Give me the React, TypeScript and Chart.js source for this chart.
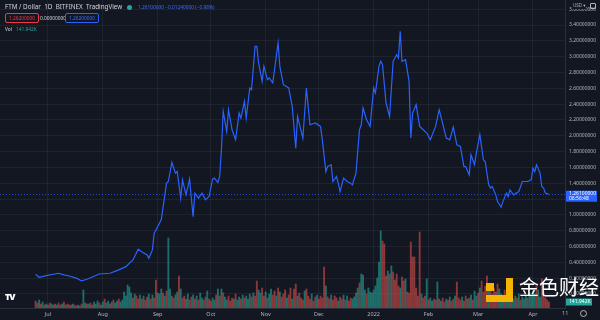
import React, { useEffect, useRef } from "react";
import { Chart, registerables } from "chart.js";

Chart.register(...registerables);

// FTM / Dollar, 1D, BITFINEX — day offsets counted from 2021-06-24
const START_DATE = "2021-06-24";
const monthTickDays = [7, 38, 69, 99, 130, 160, 191, 222, 250, 281];
const monthTickLabels = ["Jul", "Aug", "Sep", "Oct", "Nov", "Dec", "2022", "Feb", "Mar", "Apr"];
const priceTicks = [0, 0.2, 0.4, 0.6, 0.8, 1.0, 1.2, 1.4, 1.6, 1.8, 2.0, 2.2, 2.4, 2.6, 2.8, 3.0, 3.2, 3.4, 3.6];

const priceDay = [
  0, 2, 6, 13, 16, 19, 23, 26, 29, 32,
  36, 42, 46, 51, 55, 58, 60, 63, 64, 66,
  67, 68, 70, 71, 74, 75, 77, 79, 80, 82,
  83, 85, 87, 88, 89, 90, 92, 94, 96, 98,
  100, 101, 103, 104, 105, 106, 108, 109, 111, 113,
  115, 116, 118, 119, 121, 122, 124, 125, 126, 128,
  129, 131, 132, 134, 135, 137, 138, 140, 143, 145,
  147, 148, 151, 153, 155, 158, 161, 162, 164, 165,
  167, 168, 170, 171, 172, 174, 176, 178, 179, 181,
  183, 184, 185, 187, 189, 191, 192, 194, 195, 196,
  198, 199, 200, 202, 204, 205, 206, 207, 209, 211,
  212, 213, 215, 217, 219, 221, 223, 226, 228, 229,
  232, 234, 236, 238, 240, 242, 243, 245, 246, 248,
  249, 251, 253, 254, 256, 257, 258, 260, 261, 263,
  264, 266, 267, 268, 270, 273, 275, 278, 280, 281,
  282, 283, 285, 286, 287, 288, 290,
];
const priceUsd = [
  0.249, 0.211, 0.232, 0.262, 0.241, 0.228, 0.2, 0.165, 0.186, 0.215,
  0.253, 0.262, 0.295, 0.346, 0.43, 0.566, 0.535, 0.494, 0.452, 0.557,
  0.768, 0.81, 0.895, 0.937, 1.401, 1.422, 1.662, 1.528, 1.548, 1.211,
  1.443, 1.253, 1.452, 1.211, 0.978, 1.275, 1.211, 1.275, 1.19, 1.232,
  1.452, 1.465, 1.409, 1.485, 1.823, 2.308, 2.054, 2.329, 2.076, 1.949,
  2.287, 2.224, 2.434, 2.224, 2.604, 2.582, 3.13, 3.13, 2.92, 2.687,
  2.877, 2.709, 2.73, 2.667, 2.835, 3.173, 2.877, 2.646, 2.604, 2.371,
  1.844, 2.244, 1.971, 2.604, 2.139, 2.161, 2.118, 1.949, 1.548, 1.611,
  1.633, 1.422, 1.485, 1.401, 1.295, 1.465, 1.422, 1.401, 1.38, 1.528,
  2.076, 2.139, 2.351, 2.203, 2.118, 2.604, 2.541, 2.877, 2.941, 2.899,
  2.414, 2.329, 2.244, 2.941, 3.025, 2.984, 3.32, 2.941, 2.962, 2.687,
  1.971, 2.287, 2.392, 2.118, 2.076, 2.034, 1.949, 2.118, 2.329, 2.244,
  1.971, 1.949, 2.11, 1.886, 1.865, 1.611, 1.611, 1.506, 1.759, 1.633,
  1.781, 2.013, 1.696, 1.675, 1.38, 1.338, 1.358, 1.253, 1.168, 1.097,
  1.168, 1.275, 1.232, 1.316, 1.253, 1.295, 1.422, 1.422, 1.443, 1.591,
  1.548, 1.633, 1.528, 1.358, 1.338, 1.275, 1.261,
];

// daily volume (one bar per day from START_DATE), and candle direction g=up r=down
const volume = [
  7, 5, 8, 4, 6, 3, 4, 3, 5, 4,
  3, 4, 3, 5, 3, 4, 6, 3, 4, 3,
  3, 4, 3, 2, 3, 2, 4, 18, 5, 4,
  4, 5, 3, 6, 4, 7, 5, 3, 6, 9,
  5, 7, 4, 6, 8, 5, 7, 9, 6, 8,
  16, 12, 23, 21, 15, 10, 14, 12, 9, 13,
  9, 12, 8, 11, 14, 9, 13, 10, 28, 15,
  14, 19, 15, 12, 17, 70, 19, 12, 10, 13,
  16, 32, 19, 10, 12, 9, 14, 8, 11, 13,
  9, 12, 8, 15, 10, 8, 11, 17, 9, 7,
  10, 8, 13, 19, 12, 19, 15, 11, 8, 12,
  7, 10, 9, 14, 8, 11, 9, 13, 10, 12,
  9, 14, 11, 15, 12, 27, 18, 15, 20, 12,
  16, 10, 14, 19, 13, 17, 12, 20, 16, 11,
  14, 18, 10, 13, 20, 9, 19, 24, 12, 15,
  10, 8, 17, 19, 12, 9, 14, 7, 11, 13,
  9, 12, 10, 41, 22, 11, 9, 13, 8, 12,
  10, 7, 11, 9, 13, 8, 12, 7, 10, 9,
  11, 15, 20, 25, 34, 33, 18, 14, 20, 16,
  15, 18, 22, 30, 46, 77, 67, 64, 32, 37,
  34, 42, 36, 28, 34, 22, 20, 31, 27, 29,
  16, 15, 66, 51, 51, 20, 12, 76, 14, 10,
  12, 29, 8, 10, 7, 9, 8, 26, 9, 7,
  10, 6, 9, 8, 11, 7, 9, 12, 26, 10,
  8, 11, 7, 12, 9, 10, 13, 8, 17, 12,
  15, 20, 27, 16, 22, 32, 22, 18, 14, 20,
  16, 24, 19, 14, 12, 18, 13, 10, 15, 11,
  9, 12, 10, 14, 8, 11, 9, 13, 10, 15,
  12, 17, 14, 22, 18, 11, 29, 16, 10, 8,
  6,
];
const volumeSide =
  "rrgrgrgrrg" + "grgrrgrgrr" + "rgrrgrrggr" + "grrgggrggr" + "ggrgrggrgg" +
  "gggggrgrrg" + "rgrrgrgrrg" + "ggrgrggrrg" + "grgrrggrrg" + "rgrggrrgrr" +
  "ggrgrgrggr" + "rrgrggrgrg" + "ggrgrrggrr" + "grggrrgrgr" + "rrgrrgrrgr" +
  "rrgrrrgrrg" + "rrrrgrrgrr" + "rgrrgrgrrg" + "gggrgggrgg" + "ggggggrrrg" +
  "rgrrrrgrrg" + "rrrrrrrrgr" + "rgrggrrgrg" + "rrgrgrrgrr" + "rgrrgrgrgg" +
  "rgrrrrgrrr" + "rrgggrggrg" + "ggrgrgggrg" + "gggrggrrrr" + "r";

const lastPrice = 1.261;
const lastCountdown = "06:56:48";
const lastVolumeText = "141.942K";

const BG = "#131722";
const GRID = "rgba(255,255,255,0.055)";
const TEXT = "#b2b5be";
const BLUE = "#2962ff";
const FONT = "'Noto Sans', 'DejaVu Sans', sans-serif";

const tvPlugin = {
  id: "tvExtras",
  afterDatasetsDraw(chart: any) {
    const { ctx, chartArea, scales } = chart;
    const y = Math.round(scales.y.getPixelForValue(lastPrice)) + 0.5;
    ctx.save();
    ctx.strokeStyle = "rgba(41,98,255,0.75)";
    ctx.lineWidth = 1;
    ctx.setLineDash([1, 2]);
    ctx.beginPath();
    ctx.moveTo(chartArea.left, y);
    ctx.lineTo(chartArea.right, y);
    ctx.stroke();
    ctx.restore();
  },
  afterDraw(chart: any) {
    const { ctx, chartArea, scales } = chart;
    const x0 = chartArea.right + 1;
    const y = scales.y.getPixelForValue(lastPrice);
    ctx.save();
    ctx.fillStyle = BLUE;
    ctx.fillRect(x0, y - 3.5, 31, 11);
    ctx.fillStyle = "#ffffff";
    ctx.font = `5px ${FONT}`;
    ctx.textBaseline = "middle";
    ctx.textAlign = "left";
    ctx.fillText(lastPrice.toFixed(8), x0 + 3, y - 0.5);
    ctx.fillText(lastCountdown, x0 + 3, y + 4.5);
    const yv = scales.yv.getPixelForValue(volume[volume.length - 1]);
    ctx.fillStyle = "#26a69a";
    ctx.fillRect(x0, yv - 3.5, 26, 7);
    ctx.fillStyle = "#ffffff";
    ctx.fillText(lastVolumeText, x0 + 3, yv);
    ctx.restore();
  },
};

export default function App() {
  const ref = useRef<HTMLCanvasElement>(null);

  useEffect(() => {
    document.body.style.margin = "0";
    const canvas = ref.current;
    if (!canvas) return;
    const pricePts = priceDay.map((d, i) => ({ x: d, y: priceUsd[i] }));
    const volPts = volume.map((v, i) => ({ x: i, y: v }));
    const volColors = volume.map((_, i) =>
      volumeSide[i] === "g" ? "rgba(38,166,154,0.6)" : "rgba(239,83,80,0.55)"
    );

    const chart = new Chart(canvas, {
      type: "bar",
      data: {
        datasets: [
          {
            type: "line",
            label: "FTM/USD",
            data: pricePts,
            borderColor: BLUE,
            borderWidth: 1.2,
            pointRadius: 0,
            tension: 0,
            yAxisID: "y",
            order: 0,
          } as any,
          {
            type: "bar",
            label: "Vol",
            data: volPts,
            backgroundColor: volColors,
            barThickness: 1.2,
            yAxisID: "yv",
            order: 1,
          } as any,
        ],
      },
      options: {
        responsive: false,
        animation: false,
        devicePixelRatio: 1,
        layout: { padding: 0 },
        plugins: {
          legend: { display: false },
          tooltip: { enabled: false },
        },
        scales: {
          x: {
            type: "linear",
            offset: false,
            min: -20.1,
            max: 299.1,
            afterBuildTicks: (s: any) => {
              s.ticks = monthTickDays.map((v) => ({ value: v }));
            },
            afterFit: (s: any) => {
              s.height = 12;
              s.paddingLeft = 0;
              s.paddingRight = 0;
            },
            ticks: {
              autoSkip: false,
              maxRotation: 0,
              color: TEXT,
              font: { size: 5.5, family: FONT },
              padding: 3,
              callback: (_v: any, i: number) => monthTickLabels[i],
            },
            grid: { color: GRID, drawTicks: false, offset: false },
            border: { color: "#2a2e39" },
          },
          y: {
            type: "linear",
            position: "right",
            min: -0.177,
            max: 3.716,
            afterBuildTicks: (s: any) => {
              s.ticks = priceTicks.map((v) => ({ value: v }));
            },
            afterFit: (s: any) => {
              s.width = 35;
              s.paddingTop = 0;
              s.paddingBottom = 0;
            },
            ticks: {
              color: TEXT,
              font: { size: 5, family: FONT },
              padding: 4,
              callback: (v: any) => Number(v).toFixed(8),
            },
            grid: { color: GRID, drawTicks: false },
            border: { color: "#2a2e39" },
          },
          yv: {
            type: "linear",
            display: false,
            min: 0,
            max: 308,
          },
        },
      },
      plugins: [tvPlugin],
    });
    return () => chart.destroy();
  }, []);

  const hdr: React.CSSProperties = {
    position: "absolute",
    fontFamily: FONT,
    fontSize: "6px",
    lineHeight: "8px",
    whiteSpace: "pre",
  };

  return (
    <div
      style={{
        position: "fixed",
        left: 0,
        top: 0,
        width: 600,
        height: 320,
        background: BG,
        overflow: "hidden",
      }}
    >
      <canvas ref={ref} width={600} height={320} style={{ display: "block" }} />
      {/* header */}
      <div style={{ ...hdr, left: 5, top: 3, fontSize: "6.3px", color: "#d1d4dc" }}>
        {"FTM / Dollar  1D  BITFINEX  TradingView"}
      </div>
      <div
        style={{
          position: "absolute",
          left: 127,
          top: 5,
          width: 5,
          height: 5,
          borderRadius: 3,
          background: "#26a69a",
        }}
      />
      <div style={{ ...hdr, left: 138, top: 3, fontSize: "4.8px", color: "#3d6dfa" }}>
        1.26100000 −0.01240000 (−0.98%)
      </div>
      <div
        style={{
          ...hdr,
          left: 5,
          top: 13,
          fontSize: "4.8px",
          color: "#f23645",
          border: "1px solid #f23645",
          borderRadius: 2,
          padding: "0 3px",
        }}
      >
        1.26200000
      </div>
      <div style={{ ...hdr, left: 40, top: 14, fontSize: "4.8px", color: "#d1d4dc" }}>0.00000000</div>
      <div
        style={{
          ...hdr,
          left: 65,
          top: 13,
          fontSize: "4.8px",
          color: "#3d6dfa",
          border: "1px solid #2962ff",
          borderRadius: 2,
          padding: "0 3px",
        }}
      >
        1.26200000
      </div>
      <div style={{ ...hdr, left: 5, top: 25, fontSize: "4.8px", color: "#d1d4dc" }}>Vol</div>
      <div style={{ ...hdr, left: 16, top: 25, fontSize: "4.8px", color: "#26a69a" }}>{lastVolumeText}</div>
      {/* currency control on price scale */}
      <div
        style={{
          ...hdr,
          left: 572,
          top: 1,
          color: TEXT,
          background: BG,
          fontSize: "4.5px",
          padding: "0 1px",
        }}
      >
        USD ▾
      </div>
      <div
        style={{
          position: "absolute",
          left: 590,
          top: 3,
          width: 4,
          height: 4,
          border: "1px solid #b2b5be",
          borderRadius: 1,
        }}
      />
      {/* time scale extras */}
      <div style={{ ...hdr, left: 562, top: 309, fontSize: "5.5px", color: TEXT }}>11</div>
      <div
        style={{
          position: "absolute",
          left: 580,
          top: 310,
          width: 5,
          height: 5,
          border: "1px solid #b2b5be",
          borderRadius: 4,
        }}
      />
      {/* TradingView logo */}
      <div
        style={{
          position: "absolute",
          left: 5,
          top: 290,
          color: "#ffffff",
          fontFamily: FONT,
          fontWeight: 900,
          fontSize: "9px",
          letterSpacing: "-1px",
        }}
      >
        TV
      </div>
      {/* watermark */}
      <div style={{ position: "absolute", left: 486, top: 283, width: 8, height: 8, background: "#f5b400" }} />
      <div style={{ position: "absolute", left: 506, top: 278, width: 7, height: 24, background: "#f5b400" }} />
      <div style={{ position: "absolute", left: 486, top: 295, width: 27, height: 7, background: "#f5b400" }} />
      <div
        style={{
          position: "absolute",
          left: 519,
          top: 272,
          color: "#ffffff",
          fontFamily: "'Noto Sans CJK SC', sans-serif",
          fontSize: "20px",
          lineHeight: "30px",
          whiteSpace: "nowrap",
        }}
      >
        金色财经
      </div>
    </div>
  );
}
